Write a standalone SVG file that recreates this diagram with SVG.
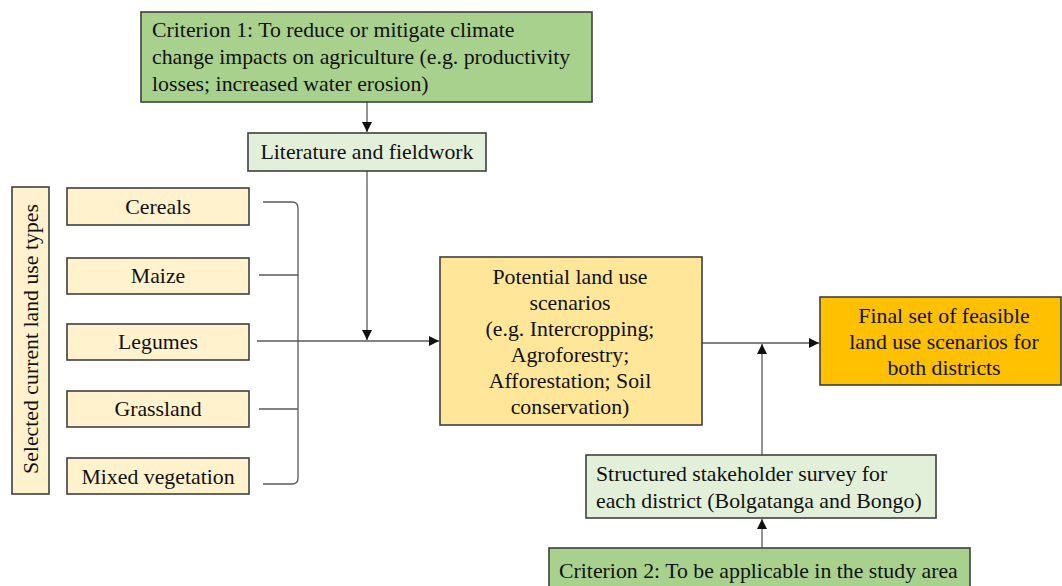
<svg xmlns="http://www.w3.org/2000/svg" width="1062" height="586" viewBox="0 0 1062 586">
<style>
.t{font-family:"Liberation Serif","Times New Roman",serif;font-size:21.8px;fill:#111}
.c{text-anchor:middle}
.b{stroke:#3f3f3f;stroke-width:1.6}
.g1{fill:#a9d18e}.g2{fill:#e2f0d9}.y1{fill:#fff2cc}.y2{fill:#ffe699}.o{fill:#ffc000}
.ln{fill:none;stroke:#595959;stroke-width:1.3}
</style>
<defs>
<marker id="ah" viewBox="0 0 10 10" refX="10" refY="5" markerWidth="10" markerHeight="10" markerUnits="userSpaceOnUse" orient="auto">
<path d="M0,0 L10,5 L0,10 z" fill="#111"/>
</marker>
</defs>
<rect width="1062" height="586" fill="#fff"/>
<g id="connectors">
<line class="ln" x1="367" y1="102" x2="367" y2="132" marker-end="url(#ah)"/>
<line class="ln" x1="367" y1="171" x2="367" y2="340" marker-end="url(#ah)"/>
<line class="ln" x1="257" y1="341" x2="439" y2="341" marker-end="url(#ah)"/>
<path class="ln" d="M263,202 L292,202 Q298,202 298,208 L298,478 Q298,484 292,484 L263,484"/>
<line class="ln" x1="259" y1="275" x2="298" y2="275"/>
<line class="ln" x1="259" y1="409" x2="298" y2="409"/>
<line class="ln" x1="702" y1="343" x2="819" y2="343" marker-end="url(#ah)"/>
<line class="ln" x1="762" y1="455" x2="762" y2="344" marker-end="url(#ah)"/>
<line class="ln" x1="762" y1="548" x2="762" y2="519" marker-end="url(#ah)"/>
</g>
<g id="criterion1">
<rect class="b g1" x="141" y="12" width="451" height="90"/>
<text class="t" x="152" y="37">Criterion 1: To reduce or mitigate climate</text>
<text class="t" x="152" y="64">change impacts on agriculture (e.g. productivity</text>
<text class="t" x="152" y="91">losses; increased water erosion)</text>
</g>
<g id="literature">
<rect class="b g2" x="248" y="133" width="238" height="38"/>
<text class="t c" x="367" y="159">Literature and fieldwork</text>
</g>
<g id="label">
<rect class="b y1" x="12" y="187" width="37" height="307"/>
<text class="t c" transform="translate(38,339) rotate(-90)">Selected current land use types</text>
</g>
<g id="cereals">
<rect class="b y1" x="67" y="188" width="182" height="37"/>
<text class="t c" x="158" y="214">Cereals</text>
</g>
<g id="maize">
<rect class="b y1" x="67" y="258" width="182" height="36"/>
<text class="t c" x="158" y="283">Maize</text>
</g>
<g id="legumes">
<rect class="b y1" x="67" y="324" width="182" height="36"/>
<text class="t c" x="158" y="349">Legumes</text>
</g>
<g id="grassland">
<rect class="b y1" x="67" y="391" width="182" height="36"/>
<text class="t c" x="158" y="416">Grassland</text>
</g>
<g id="mixed">
<rect class="b y1" x="67" y="458" width="182" height="36"/>
<text class="t c" x="158" y="484">Mixed vegetation</text>
</g>
<g id="potential">
<rect class="b y2" x="440" y="257" width="262" height="168"/>
<text class="t c" x="570" y="284">Potential land use</text>
<text class="t c" x="570" y="310">scenarios</text>
<text class="t c" x="570" y="336">(e.g. Intercropping;</text>
<text class="t c" x="570" y="362">Agroforestry;</text>
<text class="t c" x="570" y="388">Afforestation; Soil</text>
<text class="t c" x="570" y="414">conservation)</text>
</g>
<g id="final">
<rect class="b o" x="820" y="297" width="241" height="88"/>
<text class="t c" x="944" y="323">Final set of feasible</text>
<text class="t c" x="944" y="349">land use scenarios for</text>
<text class="t c" x="944" y="375">both districts</text>
</g>
<g id="survey">
<rect class="b g2" x="586" y="455" width="350" height="63"/>
<text class="t" x="596" y="481">Structured stakeholder survey for</text>
<text class="t" x="596" y="508">each district (Bolgatanga and Bongo)</text>
</g>
<g id="criterion2">
<rect class="b g1" x="549" y="548" width="421" height="45"/>
<text class="t" x="559" y="578">Criterion 2: To be applicable in the study area</text>
</g>
</svg>
